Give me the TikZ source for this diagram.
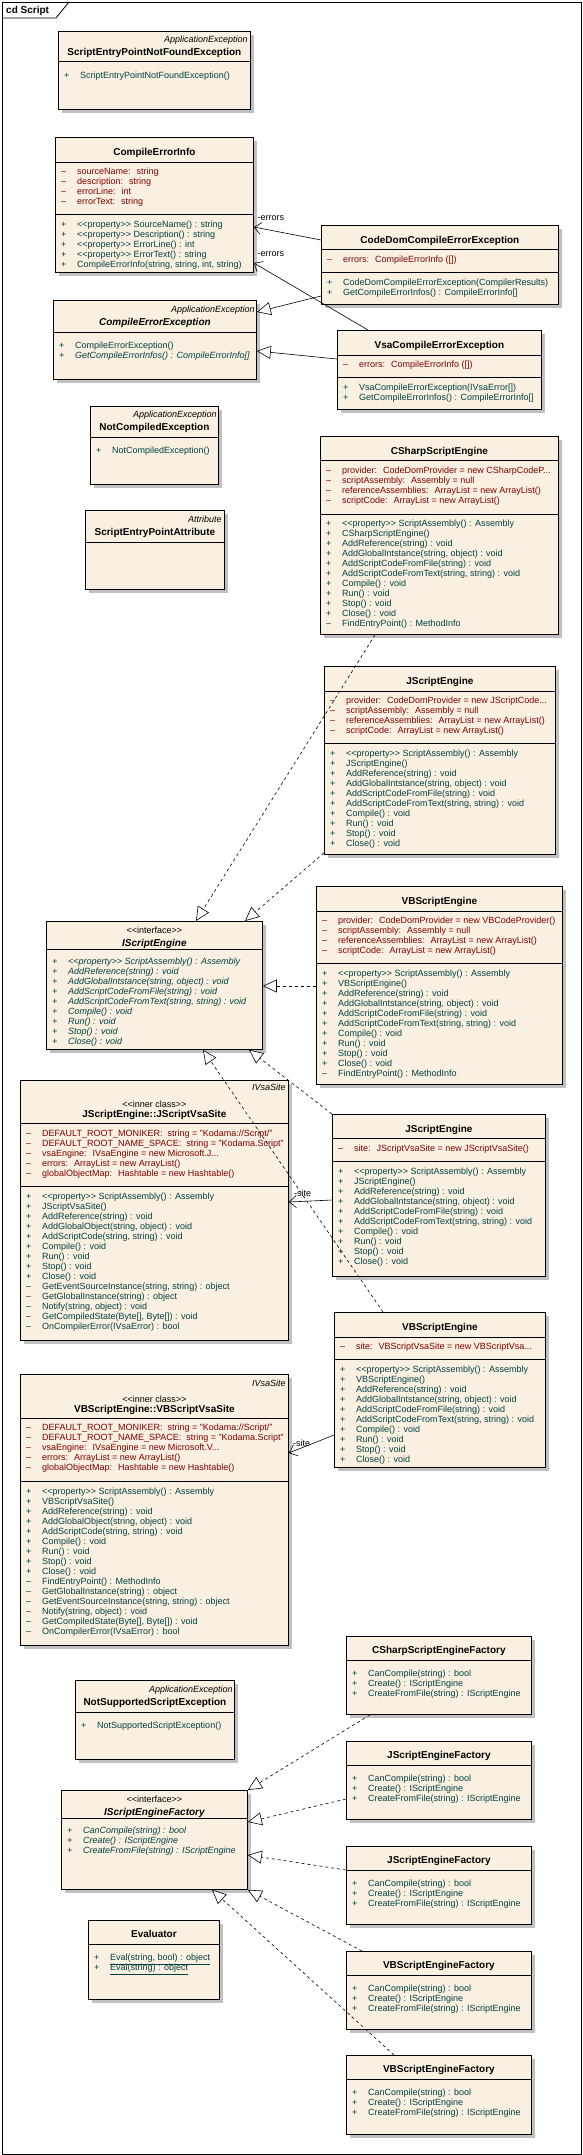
\documentclass[tikz,border=0pt]{standalone}
\usepackage{fontspec}
\setmainfont{Liberation Sans}
\usetikzlibrary{calc}
\usetikzlibrary{shadows}
\usetikzlibrary{arrows.meta}

\definecolor{clsfill}{RGB}{250,240,225}
\definecolor{attrred}{RGB}{128,0,0}
\definecolor{methteal}{RGB}{0,64,64}
\definecolor{shadowgray}{RGB}{192,192,192}

\newcommand{\memfont}{\fontsize{9}{10}\selectfont}
\newcommand{\namefont}{\fontsize{10}{11}\selectfont\bfseries}
\newcommand{\ster}[1]{{<}{<}#1{>}{>}}
\newcommand{\divline}[2]{\draw[line width=0.8pt] ($(#1.north west)+(0,#2)$) -- ($(#1.north east)+(0,#2)$);}
\newcommand{\members}[4]{\foreach \v/\t [count=\i from 0] in {#4} {
    \node[#3, anchor=base west] at ($(#1.north west)+(6,#2+10*\i)$) {\v};
    \node[#3, anchor=base west] at ($(#1.north west)+(22,#2+10*\i)$) {\t};}}

\begin{document}
\begin{tikzpicture}[x=1pt, y=-1pt,
    cls/.style={draw, line width=0.8pt, fill=clsfill, anchor=north west, inner sep=0pt,
      drop shadow={shadow xshift=4pt, shadow yshift=-4pt, fill=shadowgray, opacity=1}},
    attr/.style={text=attrred, font=\memfont, inner sep=0pt},
    meth/.style={text=methteal, font=\memfont, inner sep=0pt},
    ameth/.style={meth, font=\memfont\itshape},
    cname/.style={font=\namefont, inner sep=0pt, anchor=base},
    aname/.style={font=\namefont\itshape, inner sep=0pt, anchor=base},
    stereo/.style={font=\memfont\itshape, inner sep=0pt, anchor=base east},
    kind/.style={font=\memfont, inner sep=0pt, anchor=base},
    role/.style={font=\memfont, inner sep=0pt, anchor=base west},
    assoc/.style={line width=0.6pt, -{Straight Barb[length=7pt, width=12pt]}},
    gen/.style={line width=0.6pt, -{Triangle[length=14pt, width=13pt, fill=white]}},
    real/.style={gen, dash pattern=on 3pt off 3pt}]
    \useasboundingbox (0,0) rectangle (583,2155);
    % frame
    \node(frame)[draw, line width=0.8pt, anchor=north west, minimum width=579pt, minimum height=2152pt, inner sep=0pt] at (2,2) {};
    \draw[line width=0.8pt] ($(frame.north west)+(0,16)$) -- ++(54,0) -- ($(frame.north west)+(67,0)$);
    \node(title)[font=\namefont, inner sep=0pt, anchor=base west] at (6,13) {cd Script};

    % exceptions
    \node(sepnf)[cls, minimum width=192pt, minimum height=78pt] at (58,31) {};
    \divline{sepnf}{30}
    \node[stereo] at ($(sepnf.north east)+(-3,11.5)$) {ApplicationException};
    \node[cname] at ($(sepnf.north)+(0,24.5)$) {ScriptEntryPointNotFoundException};
    \members{sepnf}{47.5}{meth}{+/{ScriptEntryPointNotFoundException()}}

    \node(cei)[cls, minimum width=198pt, minimum height=135pt] at (55,137) {};
    \divline{cei}{25}
    \divline{cei}{77}
    \node[cname] at ($(cei.north)+(0,18.5)$) {CompileErrorInfo};
    \members{cei}{37.5}{attr}{--/{sourceName:~ string}, --/{description:~ string}, --/{errorLine:~ int}, --/{errorText:~ string}}
    \members{cei}{90.5}{meth}{+/{\ster{property} SourceName() : string}, +/{\ster{property} Description() : string},
      +/{\ster{property} ErrorLine() : int}, +/{\ster{property} ErrorText() : string}, +/{CompileErrorInfo(string, string, int, string)}}

    \node(codedom)[cls, minimum width=237pt, minimum height=79pt] at (321,225) {};
    \divline{codedom}{24}
    \divline{codedom}{47}
    \node[cname] at ($(codedom.north)+(0,18.5)$) {CodeDomCompileErrorException};
    \members{codedom}{37.5}{attr}{--/{errors:~ CompileErrorInfo ([])}}
    \members{codedom}{60.5}{meth}{+/{CodeDomCompileErrorException(CompilerResults)}, +/{GetCompileErrorInfos() : CompileErrorInfo[]}}

    \node(cee)[cls, minimum width=203pt, minimum height=79pt] at (53,300) {};
    \divline{cee}{32}
    \node[stereo] at ($(cee.north east)+(-2,12.5)$) {ApplicationException};
    \node[aname] at ($(cee.north)+(0,25.5)$) {CompileErrorException};
    \members{cee}{48.5}{meth}{+/{CompileErrorException()}}
    \members{cee}{58.5}{ameth}{+/{GetCompileErrorInfos() : CompileErrorInfo[]}}

    \node(vsacee)[cls, minimum width=204pt, minimum height=79pt] at (337,330) {};
    \divline{vsacee}{25}
    \divline{vsacee}{47}
    \node[cname] at ($(vsacee.north)+(0,18)$) {VsaCompileErrorException};
    \members{vsacee}{37.5}{attr}{--/{errors:~ CompileErrorInfo ([])}}
    \members{vsacee}{60.5}{meth}{+/{VsaCompileErrorException(IVsaError[])}, +/{GetCompileErrorInfos() : CompileErrorInfo[]}}

    \node(nce)[cls, minimum width=128pt, minimum height=78pt] at (90,406) {};
    \divline{nce}{31}
    \node[stereo] at ($(nce.north east)+(-2,11.5)$) {ApplicationException};
    \node[cname] at ($(nce.north)+(0,24.5)$) {NotCompiledException};
    \members{nce}{47.5}{meth}{+/{NotCompiledException()}}

    \node(sepa)[cls, minimum width=139pt, minimum height=79pt] at (85,510) {};
    \divline{sepa}{32}
    \node[stereo] at ($(sepa.north east)+(-3,12.5)$) {Attribute};
    \node[cname] at ($(sepa.north)+(0,25.5)$) {ScriptEntryPointAttribute};

    % engines
    \node(cse)[cls, minimum width=238pt, minimum height=198pt] at (320,436) {};
    \divline{cse}{24}
    \divline{cse}{78}
    \node[cname] at ($(cse.north)+(0,18.5)$) {CSharpScriptEngine};
    \members{cse}{37.5}{attr}{--/{provider:~ CodeDomProvider = new CSharpCodeP...}, --/{scriptAssembly:~ Assembly = null},
      --/{referenceAssemblies:~ ArrayList = new ArrayList()}, --/{scriptCode:~ ArrayList = new ArrayList()}}
    \members{cse}{90.5}{meth}{+/{\ster{property} ScriptAssembly() : Assembly}, +/{CSharpScriptEngine()}, +/{AddReference(string) : void},
      +/{AddGlobalIntstance(string, object) : void}, +/{AddScriptCodeFromFile(string) : void}, +/{AddScriptCodeFromText(string, string) : void},
      +/{Compile() : void}, +/{Run() : void}, +/{Stop() : void}, +/{Close() : void}, --/{FindEntryPoint() : MethodInfo}}

    \node(jse1)[cls, minimum width=231pt, minimum height=188pt] at (324,666) {};
    \divline{jse1}{25}
    \divline{jse1}{77}
    \node[cname] at ($(jse1.north)+(0,18.5)$) {JScriptEngine};
    \members{jse1}{37.5}{attr}{--/{provider:~ CodeDomProvider = new JScriptCode...}, --/{scriptAssembly:~ Assembly = null},
      --/{referenceAssemblies:~ ArrayList = new ArrayList()}, --/{scriptCode:~ ArrayList = new ArrayList()}}
    \members{jse1}{90.5}{meth}{+/{\ster{property} ScriptAssembly() : Assembly}, +/{JScriptEngine()}, +/{AddReference(string) : void},
      +/{AddGlobalIntstance(string, object) : void}, +/{AddScriptCodeFromFile(string) : void}, +/{AddScriptCodeFromText(string, string) : void},
      +/{Compile() : void}, +/{Run() : void}, +/{Stop() : void}, +/{Close() : void}}

    \node(ise)[cls, minimum width=216pt, minimum height=128pt] at (46,921) {};
    \divline{ise}{28}
    \node[kind] at ($(ise.north)+(0,12.5)$) {\ster{interface}};
    \node[aname] at ($(ise.north)+(0,25.5)$) {IScriptEngine};
    \members{ise}{43.5}{ameth}{+/{\ster{property} ScriptAssembly() : Assembly}, +/{AddReference(string) : void},
      +/{AddGlobalIntstance(string, object) : void}, +/{AddScriptCodeFromFile(string) : void}, +/{AddScriptCodeFromText(string, string) : void},
      +/{Compile() : void}, +/{Run() : void}, +/{Stop() : void}, +/{Close() : void}}

    \node(vbse1)[cls, minimum width=246pt, minimum height=198pt] at (316,886) {};
    \divline{vbse1}{25}
    \divline{vbse1}{77}
    \node[cname] at ($(vbse1.north)+(0,18.5)$) {VBScriptEngine};
    \members{vbse1}{37.5}{attr}{--/{provider:~ CodeDomProvider = new VBCodeProvider()}, --/{scriptAssembly:~ Assembly = null},
      --/{referenceAssemblies:~ ArrayList = new ArrayList()}, --/{scriptCode:~ ArrayList = new ArrayList()}}
    \members{vbse1}{90.5}{meth}{+/{\ster{property} ScriptAssembly() : Assembly}, +/{VBScriptEngine()}, +/{AddReference(string) : void},
      +/{AddGlobalIntstance(string, object) : void}, +/{AddScriptCodeFromFile(string) : void}, +/{AddScriptCodeFromText(string, string) : void},
      +/{Compile() : void}, +/{Run() : void}, +/{Stop() : void}, +/{Close() : void}, --/{FindEntryPoint() : MethodInfo}}

    % vsa sites
    \node(jvsa)[cls, minimum width=268pt, minimum height=260pt] at (20,1080) {};
    \divline{jvsa}{43}
    \divline{jvsa}{106}
    \node[stereo] at ($(jvsa.north east)+(-3,10.5)$) {IVsaSite};
    \node[kind] at ($(jvsa.north)+(0,27.5)$) {\ster{inner class}};
    \node[cname] at ($(jvsa.north)+(0,37.5)$) {JScriptEngine::JScriptVsaSite};
    \members{jvsa}{56.5}{attr}{--/{DEFAULT\_ROOT\_MONIKER:~ string = "Kodama://Script/"}, --/{DEFAULT\_ROOT\_NAME\_SPACE:~ string = "Kodama.Script"},
      --/{vsaEngine:~ IVsaEngine = new Microsoft.J...}, --/{errors:~ ArrayList = new ArrayList()}, --/{globalObjectMap:~ Hashtable = new Hashtable()}}
    \members{jvsa}{119.5}{meth}{+/{\ster{property} ScriptAssembly() : Assembly}, +/{JScriptVsaSite()}, +/{AddReference(string) : void},
      +/{AddGlobalObject(string, object) : void}, +/{AddScriptCode(string, string) : void}, +/{Compile() : void}, +/{Run() : void},
      +/{Stop() : void}, +/{Close() : void}, --/{GetEventSourceInstance(string, string) : object}, --/{GetGlobalInstance(string) : object},
      --/{Notify(string, object) : void}, --/{GetCompiledState(Byte[], Byte[]) : void}, --/{OnCompilerError(IVsaError) : bool}}

    \node(jse2)[cls, minimum width=213pt, minimum height=162pt] at (332,1114) {};
    \divline{jse2}{24}
    \divline{jse2}{47}
    \node[cname] at ($(jse2.north)+(0,18.5)$) {JScriptEngine};
    \members{jse2}{37.5}{attr}{--/{site:~ JScriptVsaSite = new JScriptVsaSite()}}
    \members{jse2}{60.5}{meth}{+/{\ster{property} ScriptAssembly() : Assembly}, +/{JScriptEngine()}, +/{AddReference(string) : void},
      +/{AddGlobalIntstance(string, object) : void}, +/{AddScriptCodeFromFile(string) : void}, +/{AddScriptCodeFromText(string, string) : void},
      +/{Compile() : void}, +/{Run() : void}, +/{Stop() : void}, +/{Close() : void}}

    \node(vbse2)[cls, minimum width=211pt, minimum height=155pt] at (334,1312) {};
    \divline{vbse2}{25}
    \divline{vbse2}{47}
    \node[cname] at ($(vbse2.north)+(0,18.5)$) {VBScriptEngine};
    \members{vbse2}{37.5}{attr}{--/{site:~ VBScriptVsaSite = new VBScriptVsa...}}
    \members{vbse2}{60.5}{meth}{+/{\ster{property} ScriptAssembly() : Assembly}, +/{VBScriptEngine()}, +/{AddReference(string) : void},
      +/{AddGlobalIntstance(string, object) : void}, +/{AddScriptCodeFromFile(string) : void}, +/{AddScriptCodeFromText(string, string) : void},
      +/{Compile() : void}, +/{Run() : void}, +/{Stop() : void}, +/{Close() : void}}

    \node(vbvsa)[cls, minimum width=268pt, minimum height=271pt] at (20,1374) {};
    \divline{vbvsa}{44}
    \divline{vbvsa}{107}
    \node[stereo] at ($(vbvsa.north east)+(-3,12.5)$) {IVsaSite};
    \node[kind] at ($(vbvsa.north)+(0,28.5)$) {\ster{inner class}};
    \node[cname] at ($(vbvsa.north)+(0,38.5)$) {VBScriptEngine::VBScriptVsaSite};
    \members{vbvsa}{56.5}{attr}{--/{DEFAULT\_ROOT\_MONIKER:~ string = "Kodama://Script/"}, --/{DEFAULT\_ROOT\_NAME\_SPACE:~ string = "Kodama.Script"},
      --/{vsaEngine:~ IVsaEngine = new Microsoft.V...}, --/{errors:~ ArrayList = new ArrayList()}, --/{globalObjectMap:~ Hashtable = new Hashtable()}}
    \members{vbvsa}{120.5}{meth}{+/{\ster{property} ScriptAssembly() : Assembly}, +/{VBScriptVsaSite()}, +/{AddReference(string) : void},
      +/{AddGlobalObject(string, object) : void}, +/{AddScriptCode(string, string) : void}, +/{Compile() : void}, +/{Run() : void},
      +/{Stop() : void}, +/{Close() : void}, --/{FindEntryPoint() : MethodInfo}, --/{GetGlobalInstance(string) : object},
      --/{GetEventSourceInstance(string, string) : object}, --/{Notify(string, object) : void}, --/{GetCompiledState(Byte[], Byte[]) : void},
      --/{OnCompilerError(IVsaError) : bool}}

    \node(nsse)[cls, minimum width=159pt, minimum height=79pt] at (75,1680) {};
    \divline{nsse}{32}
    \node[stereo] at ($(nsse.north east)+(-2,12.5)$) {ApplicationException};
    \node[cname] at ($(nsse.north)+(0,25.5)$) {NotSupportedScriptException};
    \members{nsse}{48.5}{meth}{+/{NotSupportedScriptException()}}

    % factories
    \node(csf)[cls, minimum width=185pt, minimum height=78pt] at (346,1636) {};
    \node(jsf1)[cls, minimum width=185pt, minimum height=78pt] at (346,1741) {};
    \node(jsf2)[cls, minimum width=185pt, minimum height=78pt] at (346,1846) {};
    \node(vbsf1)[cls, minimum width=185pt, minimum height=78pt] at (346,1951) {};
    \node(vbsf2)[cls, minimum width=185pt, minimum height=79pt] at (346,2055) {};
    \foreach \f/\n in {csf/CSharpScriptEngineFactory, jsf1/JScriptEngineFactory, jsf2/JScriptEngineFactory,
      vbsf1/VBScriptEngineFactory, vbsf2/VBScriptEngineFactory} {
      \divline{\f}{24}
      \node[cname] at ($(\f.north)+(0,17.5)$) {\n};
      \members{\f}{40.5}{meth}{+/{CanCompile(string) : bool}, +/{Create() : IScriptEngine}, +/{CreateFromFile(string) : IScriptEngine}}
    }

    \node(isef)[cls, minimum width=186pt, minimum height=99pt] at (61,1790) {};
    \divline{isef}{28}
    \node[kind] at ($(isef.north)+(0,12.5)$) {\ster{interface}};
    \node[aname] at ($(isef.north)+(0,25.5)$) {IScriptEngineFactory};
    \members{isef}{43.5}{ameth}{+/{CanCompile(string) : bool}, +/{Create() : IScriptEngine}, +/{CreateFromFile(string) : IScriptEngine}}

    \node(eval)[cls, minimum width=131pt, minimum height=79pt] at (88,1920) {};
    \divline{eval}{24}
    \node[cname] at ($(eval.north)+(0,17.5)$) {Evaluator};
    \members{eval}{40.5}{meth}{+/{\underline{Eval(string, bool) : object}}, +/{\underline{Eval(string) : object}}}

    % associations
    \draw[assoc] ($(codedom.north west)+(0,15)$) -- ($(cei.north east)+(0,90)$) node[role, at end, xshift=3.5pt, yshift=7pt] {-errors};
    \draw[assoc] ($(vsacee.north west)+(31,0)$) -- ($(cei.north east)+(0,126)$) node[role, at end, xshift=3.5pt, yshift=7pt] {-errors};
    \draw[assoc] ($(jse2.north west)+(0,86)$) -- ($(jvsa.north east)+(0,122)$) node[role, at end, xshift=5pt, yshift=6pt] {-site};
    \draw[assoc] ($(vbse2.north west)+(0,123)$) -- ($(vbvsa.north east)+(0,79)$) node[role, at end, xshift=4pt, yshift=7pt] {-site};

    % generalizations
    \draw[gen] ($(codedom.north west)+(0,71)$) -- ($(cee.north east)+(0,12)$);
    \draw[gen] ($(vsacee.north west)+(0,29)$) -- ($(cee.north east)+(0,51)$);

    % realizations
    \draw[real] ($(cse.south west)+(55,0)$) -- ($(ise.north west)+(150,0)$);
    \draw[real] ($(jse1.south west)+(0,-2)$) -- ($(ise.north west)+(199,0)$);
    \draw[real] ($(vbse1.north west)+(0,100)$) -- ($(ise.north east)+(0,65)$);
    \draw[real] (jse2.north west) -- ($(ise.south west)+(203,0)$);
    \draw[real] ($(vbse2.north west)+(49,0)$) -- ($(ise.south west)+(157,0)$);
    \draw[real] ($(csf.south west)+(24,0)$) -- (isef.north east);
    \draw[real] ($(jsf1.north west)+(0,58)$) -- ($(isef.north east)+(0,32)$);
    \draw[real] ($(jsf2.north west)+(0,24)$) -- ($(isef.north east)+(0,65)$);
    \draw[real] ($(vbsf1.north west)+(16,0)$) -- (isef.south east);
    \draw[real] ($(vbsf2.north west)+(48,0)$) -- ($(isef.south west)+(151,0)$);
\end{tikzpicture}
\end{document}
